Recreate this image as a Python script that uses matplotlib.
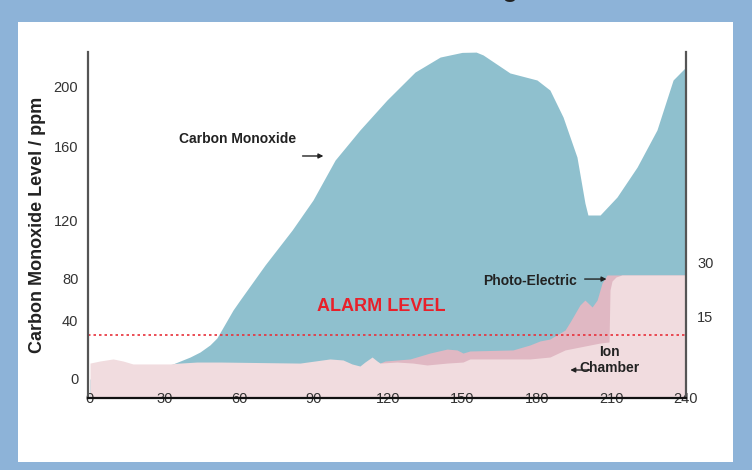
import numpy as np
import matplotlib.pyplot as plt
from matplotlib.patches import Rectangle

# carbon monoxide level (ppm) over time
co_t = [0, 30, 33.4, 40.3, 44.3, 48.3, 51.1, 57.6, 60.4, 70.5, 81.4, 89.8, 98.7,
        108.7, 119.6, 130.9, 141, 149.8, 155.5, 158.3, 169.1, 180, 185.2, 190.5,
        196.1, 199.3, 200.5, 205.4, 212.2, 220.3, 228.3, 234.8, 240]
co_ppm = [0, 8, 10.2, 14.9, 18.3, 23.1, 27.8, 49.5, 59, 89, 113.1, 130.8, 152.4,
          170.7, 190.7, 209.3, 219.3, 222.4, 222.6, 220.7, 208.7, 204, 197.3, 179.3,
          154, 129.2, 122.7, 122.7, 132.4, 148.6, 170.7, 204, 212.7]

# photo-electric response
pe_t = [116.8, 118.8, 128.9, 132.9, 136.9, 143.8, 147.8, 150.2, 153, 170.3, 177.2,
        181.2, 185.2, 191.3, 193.3, 197.3, 199.3, 202.2, 204.2, 206.2, 208.2, 240]
pe_val = [10.8, 12.2, 13.6, 15.6, 17.6, 20.3, 19.7, 17.6, 19, 19.7, 23.1,
          25.8, 27.1, 33.2, 38.6, 54.3, 59, 52.4, 59, 75.2, 82.1, 82.1]

# ion chamber response
ion_t = [0, 4, 9.3, 13.3, 17.3, 32.2, 36.2, 43.1, 52.4, 84.6, 96.6, 101.9, 105.5,
         108.7, 110.7, 113.6, 115.6, 116.8, 123.6, 130.1, 135.7, 143.8, 150.2, 153,
         177.2, 185.2, 191.3, 205.4, 209, 209.4, 210.2, 211.8, 214.2, 240]
ion_val = [10.8, 12.2, 13.6, 12.2, 10.2, 10.2, 10.8, 11.5, 11.5, 10.8, 13.6, 12.9, 10.2,
           8.8, 11.5, 14.9, 12.2, 10.8, 11.5, 10.8, 9.5, 10.8, 11.5, 13.6,
           13.6, 14.9, 19.7, 24.4, 25.1, 68.6, 77.1, 80.7, 82.1, 82.1]

alarm_level = 30
x_ticks = [0, 30, 60, 90, 120, 150, 180, 210, 240]
y_ticks = [0, 40, 80, 120, 160, 200]
right_ticks = [15, 30]

# the printed y axis is not evenly spaced, map it piecewise
tick_h = [19, 78, 120, 178, 252, 312]
knot_ppm = [-1000] + y_ticks + [1000]
knot_h = [19 - 1000 * 59 / 40] + tick_h + [312 + 800 * 60 / 40]

def fwd(v):
    return np.interp(v, knot_ppm, knot_h)

def inv(h):
    return np.interp(h, knot_h, knot_ppm)

plt.rcParams['font.family'] = ['Liberation Sans', 'DejaVu Sans']

fig = plt.figure(figsize=(7.52, 4.7), dpi=100, facecolor='#8db3d8')
fig.patches.append(Rectangle((18 / 752, 8 / 470), 715 / 752, 440 / 470,
                             transform=fig.transFigure, facecolor='white',
                             edgecolor='none', zorder=-5))
fig.text(518 / 752, 473.5 / 470, 'Smouldering', ha='right', va='baseline',
         fontsize=18, fontweight='bold', color='#222222')

ax = fig.add_axes([88 / 752, 72 / 470, 598 / 752, 346 / 470])
ax.set_facecolor('none')
ax.set_yscale('function', functions=(fwd, inv))
ax.set_xlim(-0.8, 240)
ymin, ymax = float(inv(0)), float(inv(346))
ax.set_ylim(ymin, ymax)

teal = '#8fc0ce'
dark_pink = '#e0b8c3'
light_pink = '#f1dcdf'

# keep fills under the tick labels (axis artists sit at zorder 1.5)
ax.fill_between(co_t, ymin, co_ppm, color=teal, lw=0, zorder=0.5)
ax.fill_between(pe_t, ymin, pe_val, color=dark_pink, lw=0, zorder=0.6)
ax.fill_between(ion_t, ymin, ion_val, color=light_pink, lw=0, zorder=0.7)
ax.axhline(alarm_level, color='#e8303a', lw=1.2, dashes=(1.5, 1.8), zorder=0.8)

ax.set_xticks(x_ticks)
ax.set_yticks(y_ticks)
ax.tick_params(axis='x', length=0, pad=-4, labelsize=10.5, labelcolor='#333333')
ax.tick_params(axis='y', length=0, pad=7, labelsize=10.5, labelcolor='#333333')
ax.yaxis.set_minor_locator(plt.NullLocator())

for s in ['left', 'right']:
    ax.spines[s].set_color('#555555')
    ax.spines[s].set_linewidth(1.6)
ax.spines['top'].set_visible(False)
ax.spines['bottom'].set_color('#111111')
ax.spines['bottom'].set_linewidth(1.6)

ax2 = ax.twinx()
ax2.set_ylim(-8.2, 89.7)
ax2.set_yticks(right_ticks)
ax2.tick_params(axis='y', length=0, pad=8, labelsize=10.5, labelcolor='#333333')
for s in ['left', 'right', 'top', 'bottom']:
    ax2.spines[s].set_visible(False)

ax.set_ylabel('Carbon Monoxide Level / ppm', fontsize=13, fontweight='bold',
              color='#222222')
ax.yaxis.set_label_coords(-0.071, 0.5)

txt = dict(fontsize=10, fontweight='bold', color='#222222', zorder=6)
arrow = dict(arrowstyle='-|>', color='#222222', lw=1, mutation_scale=7,
             shrinkA=0, shrinkB=0)
ax.text(59.6, 164.7, 'Carbon Monoxide', ha='center', va='center', **txt)
ax.annotate('', xy=(94, 154.6), xytext=(85.6, 154.6), arrowprops=arrow, zorder=6)
ax.text(117.2, 53.3, 'ALARM LEVEL', ha='center', va='center', fontsize=13,
        fontweight='bold', color='#e8202a', zorder=6)
ax.text(177.2, 77.1, 'Photo-Electric', ha='center', va='center', **txt)
ax.annotate('', xy=(208, 79), xytext=(199.2, 79), arrowprops=arrow, zorder=6)
ax.text(209, 12.9, 'Ion\nChamber', ha='center', va='center', linespacing=1.1, **txt)
ax.annotate('', xy=(193.4, 6.1), xytext=(201.5, 6.1), arrowprops=arrow, zorder=7)

fig.savefig('out.png', dpi=100, facecolor=fig.get_facecolor())
